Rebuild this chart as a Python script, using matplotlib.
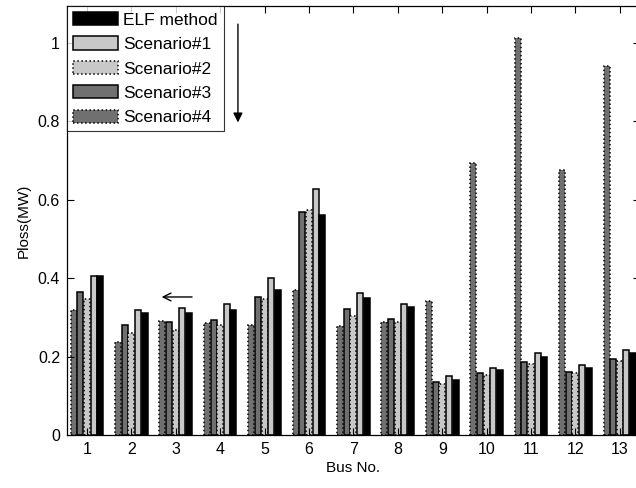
import numpy as np
import matplotlib.pyplot as plt
from matplotlib.ticker import FuncFormatter

plt.rcParams['font.family'] = ['Liberation Sans', 'DejaVu Sans']

# Power loss per bus for each method
buses = np.arange(1, 14)
elf = [0.405, 0.310, 0.312, 0.318, 0.371, 0.562, 0.349, 0.327, 0.141, 0.165, 0.199, 0.171, 0.210]
scen1 = [0.405, 0.318, 0.323, 0.335, 0.401, 0.628, 0.362, 0.335, 0.151, 0.170, 0.209, 0.179, 0.218]
scen2 = [0.347, 0.259, 0.269, 0.280, 0.346, 0.573, 0.303, 0.288, 0.129, 0.152, 0.180, 0.157, 0.190]
scen3 = [0.365, 0.280, 0.288, 0.293, 0.352, 0.570, 0.321, 0.295, 0.136, 0.158, 0.187, 0.161, 0.193]
scen4 = [0.318, 0.236, 0.290, 0.285, 0.280, 0.371, 0.278, 0.288, 0.341, 0.693, 1.013, 0.676, 0.941]

fig = plt.figure(figsize=(6.36, 4.88), dpi=100)
ax = fig.add_axes([0.1053, 0.1086, 0.9007, 0.879])

light = '#c8c8c8'
dark = '#707070'
slot = 0.15
w = 0.135

# left-to-right order inside each group
series = [
    (scen4, dark, ':', 'Scenario#4'),
    (scen3, dark, '-', 'Scenario#3'),
    (scen2, light, ':', 'Scenario#2'),
    (scen1, light, '-', 'Scenario#1'),
    (elf, 'black', '-', 'ELF method'),
]
handles = {}
for i, (vals, fc, ls, name) in enumerate(series):
    off = (i - 2) * slot
    b = ax.bar(buses + off, vals, width=w, color=fc, edgecolor='black',
               linewidth=1.1, linestyle=ls, label=name)
    handles[name] = b

order = ['ELF method', 'Scenario#1', 'Scenario#2', 'Scenario#3', 'Scenario#4']
leg = ax.legend([handles[n] for n in order], order, loc='upper left',
                bbox_to_anchor=(0.0, 1.0), fontsize=12.5, frameon=True,
                fancybox=False, edgecolor='black', handlelength=2.6,
                handleheight=0.8, handletextpad=0.3, labelspacing=0.5,
                borderpad=0.35, borderaxespad=0.0)
leg.get_frame().set_linewidth(0.8)

# arrows
ax.annotate('', xy=(4.40, 0.79), xytext=(4.40, 1.055),
            arrowprops=dict(arrowstyle='-|>', color='black', lw=1.0, mutation_scale=14))
ax.annotate('', xy=(2.62, 0.352), xytext=(3.43, 0.352),
            arrowprops=dict(arrowstyle='->', color='black', lw=1.0, mutation_scale=14))

ax.set_xlim(0.55, 13.45)
ax.set_ylim(0, 1.094)
ax.set_xticks(buses)
ax.set_yticks([0, 0.2, 0.4, 0.6, 0.8, 1.0])
ax.yaxis.set_major_formatter(FuncFormatter(lambda v, p: f'{v:g}'))
ax.tick_params(direction='in', top=True, right=True, labelsize=11.5, length=5, pad=5)
ax.set_xlabel('Bus No.', fontsize=11, labelpad=3)
ax.set_ylabel('Ploss(MW)', fontsize=11, labelpad=5)
for s in ax.spines.values():
    s.set_linewidth(0.9)

fig.savefig('out.png', dpi=100)
